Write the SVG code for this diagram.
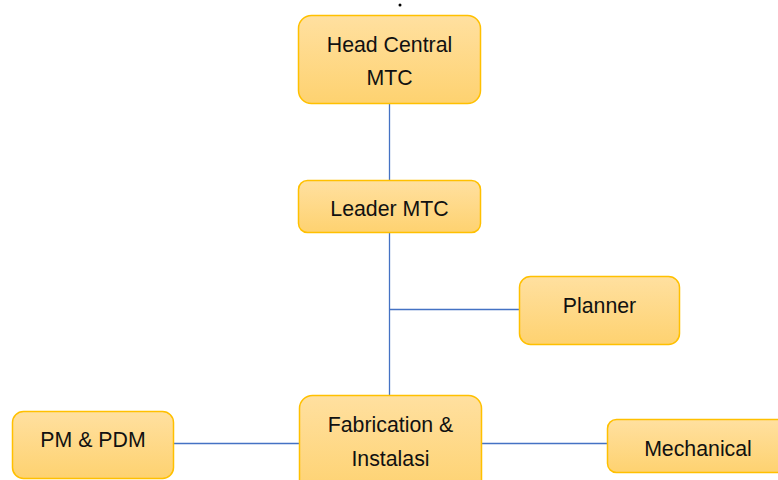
<svg xmlns="http://www.w3.org/2000/svg" width="778" height="480" viewBox="0 0 778 480">
<style>
.box{fill:url(#g);stroke:#FFC000;stroke-width:1.5}
.t{font-family:"Liberation Sans",Arial,sans-serif;font-size:21.3px;fill:#111;text-anchor:middle}
.c{stroke:#4472C4;stroke-width:1.3;fill:none}
</style>
<defs>
<linearGradient id="g" x1="0" y1="0" x2="0" y2="1">
<stop offset="0" stop-color="#FFE0A0"/>
<stop offset="1" stop-color="#FED270"/>
</linearGradient>
</defs>
<rect width="778" height="480" fill="#fff"/>
<circle cx="400" cy="5" r="1.5" fill="#000"/>
<g id="connectors">
<line class="c" x1="389.5" y1="104" x2="389.5" y2="180"/>
<line class="c" x1="389.5" y1="233" x2="389.5" y2="395"/>
<line class="c" x1="389.5" y1="309.5" x2="519" y2="309.5"/>
<line class="c" x1="174" y1="443.5" x2="299" y2="443.5"/>
<line class="c" x1="481" y1="443.5" x2="607" y2="443.5"/>
</g>
<g id="head">
<rect class="box" x="298.5" y="15.5" width="182" height="88" rx="13"/>
<text class="t" x="389.5" y="52">Head Central</text>
<text class="t" x="389.5" y="85">MTC</text>
</g>
<g id="leader">
<rect class="box" x="298.5" y="180.5" width="182" height="52" rx="9"/>
<text class="t" x="389.5" y="216">Leader MTC</text>
</g>
<g id="planner">
<rect class="box" x="519.5" y="276.5" width="160" height="68" rx="11"/>
<text class="t" x="599.5" y="313">Planner</text>
</g>
<g id="fabrication">
<rect class="box" x="299.5" y="395.5" width="182" height="100" rx="13"/>
<text class="t" x="390.5" y="432">Fabrication &amp;</text>
<text class="t" x="390.5" y="466">Instalasi</text>
</g>
<g id="pm">
<rect class="box" x="12.5" y="411.5" width="161" height="67" rx="11"/>
<text class="t" x="93" y="447">PM &amp; PDM</text>
</g>
<g id="mechanical">
<rect class="box" x="607.5" y="419.5" width="190" height="53" rx="9"/>
<text class="t" x="698" y="456">Mechanical</text>
</g>
</svg>
